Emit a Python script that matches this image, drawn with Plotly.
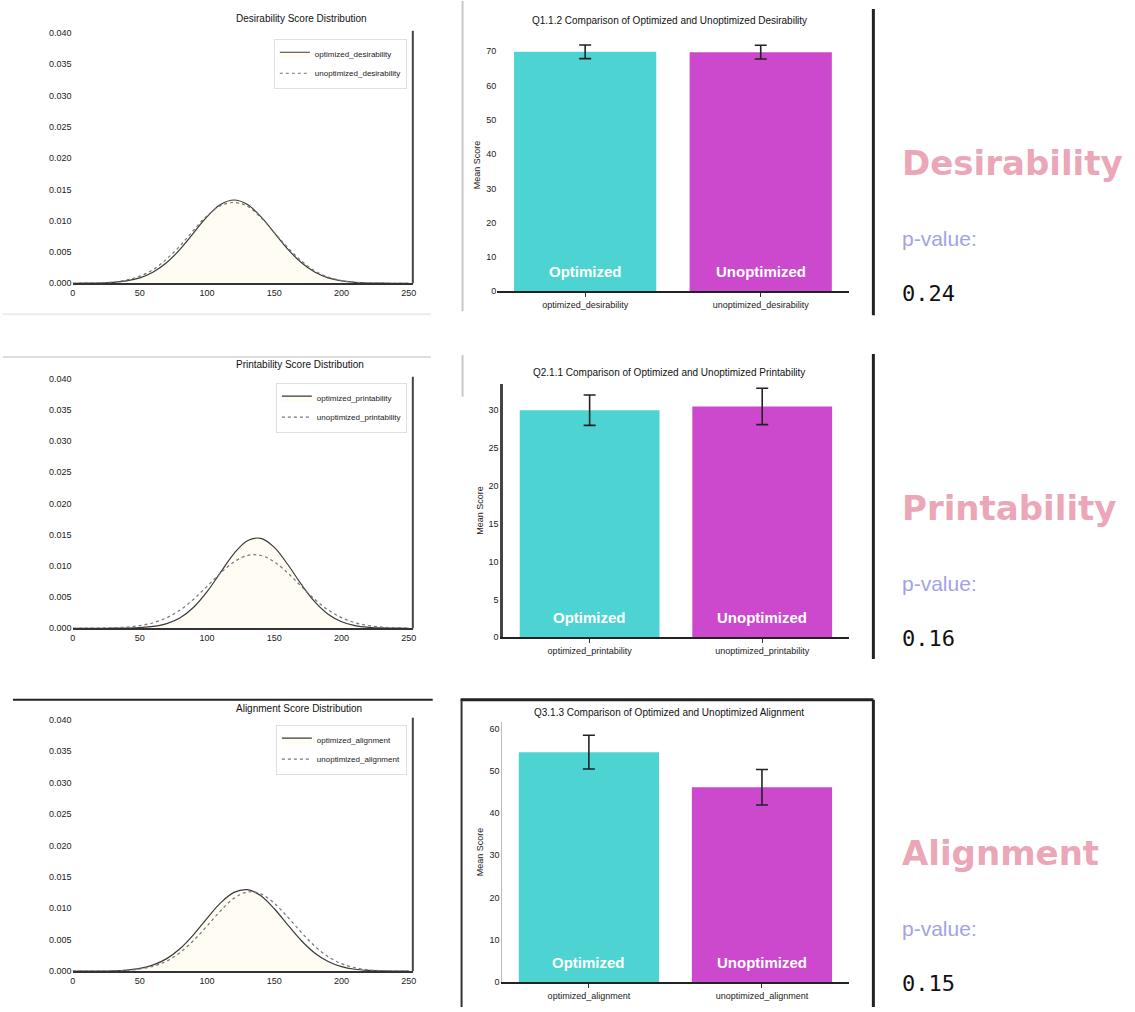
import plotly.graph_objects as go

W, H = 1135, 1012

# ---- score distributions (density per score value) ----
score_grid = [0, 10, 20, 30, 40, 50, 60, 70, 80, 90, 100, 110, 120,
              130, 140, 150, 160, 170, 180, 190, 200, 210, 220, 230, 240, 250]

desirability_opt = [0.0, 0.00002, 0.00005, 0.00015, 0.00038, 0.00087, 0.0018, 0.00332,
                    0.00547, 0.00807, 0.01065, 0.01258, 0.0133, 0.01258, 0.01065,
                    0.00807, 0.00547, 0.00332, 0.0018, 0.00087, 0.00038, 0.00015,
                    0.00005, 0.00002, 0.00001, 0.0]
desirability_unopt = [0.00001, 0.00003, 0.00008, 0.0002, 0.00053, 0.00115, 0.0022, 0.0039,
                      0.006, 0.0085, 0.0108, 0.0124, 0.0129, 0.0123, 0.0105, 0.0081,
                      0.0057, 0.0036, 0.002, 0.001, 0.00045, 0.00018, 0.00006, 0.00002,
                      0.00001, 0.0]

printability_opt = [0.0, 0.0, 0.0, 0.00001, 0.00003, 0.0001, 0.00029, 0.00075, 0.00169,
                    0.00337, 0.00587, 0.00896, 0.01198, 0.01404, 0.01441, 0.01297,
                    0.01022, 0.00706, 0.00427, 0.00226, 0.00105, 0.00043, 0.00015,
                    0.00005, 0.00001, 0.0]
printability_unopt = [0.0, 0.00001, 0.00003, 0.00008, 0.00019, 0.00043, 0.00089, 0.0017,
                      0.00294, 0.00466, 0.00672, 0.00886, 0.01064, 0.01167, 0.01167,
                      0.01064, 0.00886, 0.00672, 0.00466, 0.00294, 0.0017, 0.00089,
                      0.00043, 0.00019, 0.00008, 0.00003]

alignment_opt = [0.0, 0.00001, 0.00002, 0.00006, 0.00018, 0.00044, 0.001, 0.002, 0.00361,
                 0.00583, 0.00841, 0.01086, 0.01254, 0.01297, 0.012, 0.00993, 0.00736,
                 0.00488, 0.0029, 0.00154, 0.00073, 0.00031, 0.00012, 0.00004, 0.00001, 0.0]
alignment_unopt = [0.0, 0.00001, 0.00002, 0.00005, 0.00014, 0.00035, 0.0008, 0.0016, 0.003,
                   0.0049, 0.0072, 0.0096, 0.0116, 0.0126, 0.0123, 0.0108, 0.0086, 0.0062,
                   0.004, 0.0023, 0.0012, 0.00055, 0.00022, 0.00008, 0.00003, 0.00001]

density_ticks = [0, 0.005, 0.01, 0.015, 0.02, 0.025, 0.03, 0.035, 0.04]
density_tick_labels = ["0.000", "0.005", "0.010", "0.015", "0.020",
                       "0.025", "0.030", "0.035", "0.040"]
score_ticks = [0, 50, 100, 150, 200, 250]

# ---- group means with error ----
groups = ["Optimized", "Unoptimized"]
desirability_cats = ["optimized_desirability", "unoptimized_desirability"]
printability_cats = ["optimized_printability", "unoptimized_printability"]
alignment_cats = ["optimized_alignment", "unoptimized_alignment"]

desirability_means = [69.8, 69.7]
desirability_err = [2.0, 2.0]
printability_means = [30.0, 30.5]
printability_err = [2.0, 2.4]
alignment_means = [54.4, 46.1]
alignment_err = [4.0, 4.2]

metrics = ["Desirability", "Printability", "Alignment"]
p_values = ["0.24", "0.16", "0.15"]

CYAN = "#4DD3D1"
MAGENTA = "#CC48CC"
FONT = "Liberation Sans, Arial, sans-serif"


def fx(px):
    return px / W


def fy(py):
    return 1 - py / H


fig = go.Figure()

rows = [
    dict(name="desirability", opt=desirability_opt, unopt=desirability_unopt,
         means=desirability_means, err=desirability_err, cats=desirability_cats,
         dens_y=(284, 32), bar_x=(497, 850), bar_y=(292, 38), bar_range=73.6,
         bar_dtick=10, title_y=18, bar_title_y=20, legend_y=38),
    dict(name="printability", opt=printability_opt, unopt=printability_unopt,
         means=printability_means, err=printability_err, cats=printability_cats,
         dens_y=(631, 380), bar_x=(503, 850), bar_y=(640, 385), bar_range=33.5,
         bar_dtick=5, title_y=366, bar_title_y=374, legend_y=384),
    dict(name="alignment", opt=alignment_opt, unopt=alignment_unopt,
         means=alignment_means, err=alignment_err, cats=alignment_cats,
         dens_y=(976, 723), bar_x=(502, 850), bar_y=(987, 725), bar_range=61.6,
         bar_dtick=10, title_y=712, bar_title_y=716, legend_y=728),
]

density_titles = ["Desirability Score Distribution",
                  "Printability Score Distribution",
                  "Alignment Score Distribution"]
bar_titles = ["Q1.1.2 Comparison of Optimized and Unoptimized Desirability",
              "Q2.1.1 Comparison of Optimized and Unoptimized Printability",
              "Q3.1.3 Comparison of Optimized and Unoptimized Alignment"]
bar_ytitles = ["Mean Score", "Mean Score", "Mean Score"]

annotations = []
shapes = []

for i, r in enumerate(rows):
    dx = "x" if i == 0 else f"x{2 * i + 1}"
    dy = "y" if i == 0 else f"y{2 * i + 1}"
    bx = f"x{2 * i + 2}"
    by = f"y{2 * i + 2}"
    legend_name = "legend" if i == 0 else f"legend{i + 1}"

    # density curves
    fig.add_trace(go.Scatter(
        x=score_grid, y=r["opt"], mode="lines", name=f"optimized_{r['name']}",
        line=dict(color="#3a3a3a", width=1.2, shape="spline"),
        fill="tozeroy", fillcolor="rgba(255,240,190,0.18)",
        xaxis=dx, yaxis=dy, legend=legend_name))
    fig.add_trace(go.Scatter(
        x=score_grid, y=r["unopt"], mode="lines", name=f"unoptimized_{r['name']}",
        line=dict(color="#777777", width=1.2, dash="dot", shape="spline"),
        xaxis=dx, yaxis=dy, legend=legend_name))

    # bars
    fig.add_trace(go.Bar(
        x=r["cats"], y=r["means"], marker=dict(color=[CYAN, MAGENTA], line=dict(width=0)),
        width=0.81, showlegend=False,
        error_y=dict(type="data", array=r["err"], color="#222222", thickness=1.6, width=6),
        xaxis=bx, yaxis=by))

    ax_common = dict(showgrid=False, zeroline=False, ticks="",
                     tickfont=dict(size=9, color="#222", family=FONT))

    # density axes
    fig.layout[("xaxis" if i == 0 else f"xaxis{2 * i + 1}")] = dict(
        ax_common, domain=[fx(70), fx(412)], range=[0, 253], anchor=dy,
        tickvals=score_ticks, showline=True, linecolor="#333", linewidth=2)
    fig.layout[("yaxis" if i == 0 else f"yaxis{2 * i + 1}")] = dict(
        ax_common, domain=[fy(r["dens_y"][0]), fy(r["dens_y"][1] - 4)],
        range=[0, 0.04 * (r["dens_y"][0] - r["dens_y"][1] + 4) / (r["dens_y"][0] - r["dens_y"][1])],
        anchor=dx, tickvals=density_ticks, ticktext=density_tick_labels, showline=False)

    # bar axes
    fig.layout[f"xaxis{2 * i + 2}"] = dict(
        ax_common, domain=[fx(r["bar_x"][0]), fx(r["bar_x"][1])], range=[-0.5, 1.5],
        anchor=by, showline=True, linecolor="#222", linewidth=1.5,
        ticks="outside", ticklen=4, tickcolor="#333", type="category")
    fig.layout[f"yaxis{2 * i + 2}"] = dict(
        ax_common, domain=[fy(r["bar_y"][0]), fy(r["bar_y"][1])],
        range=[0, r["bar_range"]], anchor=bx, dtick=r["bar_dtick"],
        showline=(i > 0), linecolor="#444" if i == 1 else "#bbb",
        linewidth=3 if i == 1 else 1,
        title=dict(text=bar_ytitles[i], font=dict(size=9, family=FONT, color="#222"),
                   standoff=4))

    # legend in the upper right of each density plot
    fig.layout[legend_name] = dict(
        x=fx(406), y=fy(r["legend_y"]), xanchor="right", yanchor="top",
        bgcolor="rgba(255,255,255,0.9)", bordercolor="#e0e0e0", borderwidth=1,
        font=dict(size=8, family=FONT, color="#222"), tracegroupgap=0,
        itemwidth=30)

    # titles
    annotations.append(dict(
        text=density_titles[i], x=fx(232), y=fy(r["title_y"]), xref="paper", yref="paper",
        yanchor="middle", showarrow=False, font=dict(size=10, family=FONT, color="#111")))
    annotations.append(dict(
        text=bar_titles[i], x=fx(670), y=fy(r["bar_title_y"]), xref="paper", yref="paper",
        yanchor="middle", showarrow=False, font=dict(size=10, family=FONT, color="#111")))

    # group names inside the bars
    for g, cat in zip(groups, r["cats"]):
        annotations.append(dict(
            text=f"<b>{g}</b>", x=cat, y=0.035, xref=bx, yref=f"{by} domain",
            yanchor="bottom", showarrow=False,
            font=dict(size=15, family=FONT, color="white")))

    # metric name and p-value beside each row
    base = [163, 510, 857][i]
    annotations.append(dict(
        text=f"<b>{metrics[i]}</b>", x=fx(902), y=fy(base), xref="paper", yref="paper",
        xanchor="left", yanchor="middle", showarrow=False,
        font=dict(size=34, family="DejaVu Sans, Verdana, sans-serif", color="#EBA6B7")))
    annotations.append(dict(
        text="p-value:", x=fx(902), y=fy(base + 76), xref="paper", yref="paper",
        xanchor="left", yanchor="middle", showarrow=False,
        font=dict(size=21, family=FONT, color="#A3A3E3")))
    annotations.append(dict(
        text=p_values[i], x=fx(902), y=fy(base + 131), xref="paper", yref="paper",
        xanchor="left", yanchor="middle", showarrow=False,
        font=dict(size=22, family="DejaVu Sans Mono, monospace", color="#111")))

    # right spine of density plot
    shapes.append(dict(type="line", xref="paper", yref="paper",
                       x0=fx(412), x1=fx(412), y0=fy(r["dens_y"][0]), y1=fy(r["dens_y"][1] - 2),
                       line=dict(color="#444", width=2)))

# panel frame lines of the bar panels and row separators
frame_lines = [
    (462, 0, 462, 312, "#c8c8c8", 2),
    (875, 8, 875, 316, "#222", 3),
    (0, 315, 430, 315, "#dddddd", 1),
    (0, 358, 430, 358, "#dddddd", 2),
    (462, 356, 462, 398, "#c8c8c8", 2),
    (875, 355, 875, 662, "#222", 3),
    (10, 703, 432, 703, "#222", 2),
    (460, 703, 875, 703, "#222", 3),
    (461, 703, 461, 1012, "#333", 2),
    (875, 703, 875, 1012, "#222", 3),
]
for x0, y0, x1, y1, c, w in frame_lines:
    shapes.append(dict(type="line", xref="paper", yref="paper",
                       x0=fx(x0), x1=fx(x1), y0=fy(y0), y1=fy(y1),
                       line=dict(color=c, width=w)))

fig.update_layout(
    width=W, height=H, margin=dict(l=0, r=0, t=0, b=0),
    paper_bgcolor="white", plot_bgcolor="white",
    font=dict(family=FONT, size=9, color="#222"),
    annotations=annotations, shapes=shapes, bargap=0.19,
)

fig.write_html("out.html")
